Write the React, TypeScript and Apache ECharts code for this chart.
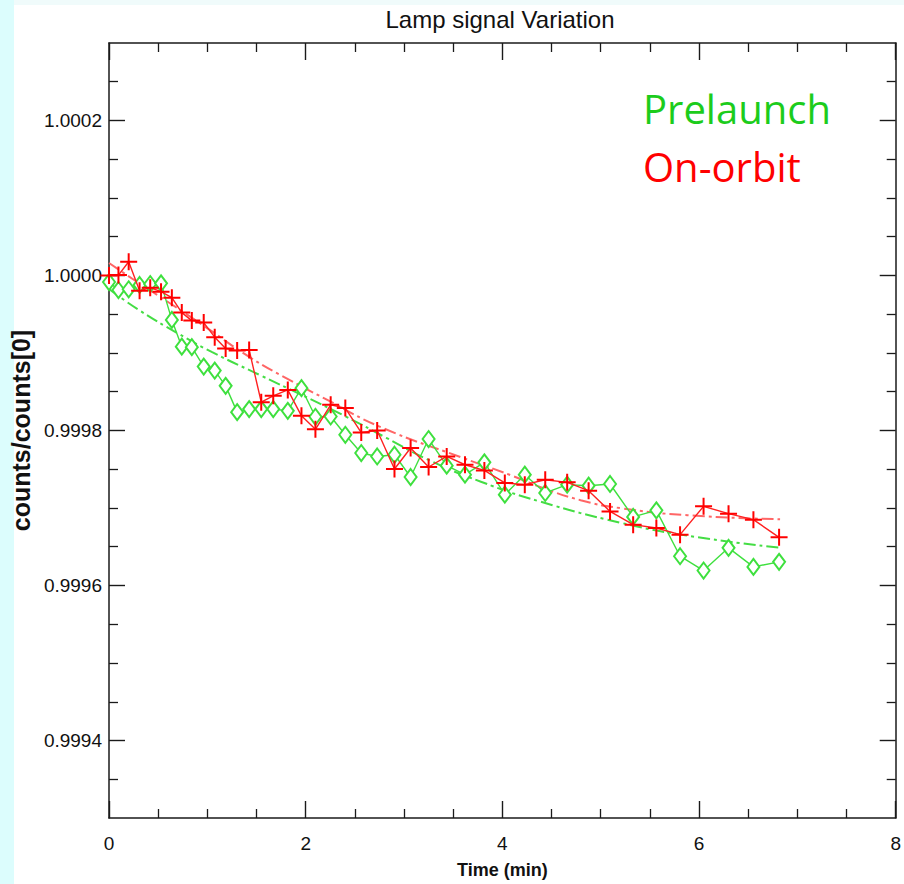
import React, { useEffect, useRef } from "react";
import * as echarts from "echarts";

// ---- data ----
const times = [0, 0.096, 0.2, 0.311, 0.419, 0.529, 0.639, 0.74, 0.842, 0.963, 1.075, 1.186, 1.303, 1.425, 1.548, 1.67, 1.818, 1.957, 2.099, 2.254, 2.403, 2.565, 2.727, 2.903, 3.067, 3.25, 3.434, 3.62, 3.817, 4.025, 4.228, 4.436, 4.659, 4.877, 5.095, 5.33, 5.566, 5.807, 6.046, 6.3, 6.553, 6.814];

const onOrbit = [1.0, 1.0000005, 1.0000178, 0.9999802, 0.9999843, 0.9999791, 0.9999714, 0.9999521, 0.9999418, 0.9999392, 0.9999204, 0.9999057, 0.9999031, 0.999904, 0.9998366, 0.9998447, 0.9998524, 0.9998189, 0.9998015, 0.9998331, 0.9998289, 0.9997974, 0.9998, 0.9997503, 0.9997774, 0.9997529, 0.9997665, 0.9997558, 0.9997485, 0.9997323, 0.9997301, 0.9997365, 0.9997331, 0.9997224, 0.9996956, 0.9996785, 0.9996742, 0.9996656, 0.9997021, 0.9996927, 0.999685, 0.9996621];

const prelaunch = [0.9999916, 0.9999813, 0.9999822, 0.9999878, 0.999989, 0.9999899, 0.9999427, 0.9999082, 0.9999075, 0.9998825, 0.9998773, 0.9998576, 0.9998237, 0.9998276, 0.9998276, 0.9998276, 0.9998254, 0.9998546, 0.9998177, 0.9998181, 0.9997945, 0.9997709, 0.9997665, 0.9997687, 0.99974, 0.999789, 0.9997546, 0.999743, 0.9997589, 0.9997172, 0.999743, 0.9997194, 0.9997301, 0.9997288, 0.999731, 0.9996885, 0.999697, 0.9996378, 0.9996193, 0.9996486, 0.999624, 0.9996305];

const onOrbitFitX = [0, 0.264, 0.639, 0.973, 1.45, 1.825, 2.19, 2.768, 3.579, 4.086, 4.39, 4.796, 5.202, 5.881, 6.824];
const onOrbitFitY = [1.0000161, 0.9999936, 0.9999626, 0.9999343, 0.999893, 0.999866, 0.9998415, 0.9998041, 0.9997655, 0.9997423, 0.9997268, 0.9997101, 0.9996998, 0.9996907, 0.9996855];

const prelaunchFitX = [0, 0.304, 0.71, 1.044, 1.551, 1.957, 2.393, 2.819, 3.245, 3.782, 4.39, 5.202, 5.881, 6.814];
const prelaunchFitY = [0.9999826, 0.9999555, 0.9999246, 0.9999014, 0.9998705, 0.999846, 0.999819, 0.9997906, 0.9997623, 0.9997339, 0.9997081, 0.999681, 0.9996643, 0.9996488];

const yMajorTicks = [0.9994, 0.9996, 0.9998, 1.0, 1.0002];
const yMinorTicks = [0.99935, 0.99945, 0.9995, 0.99955, 0.99965, 0.9997, 0.99975, 0.99985, 0.9999, 0.99995, 1.00005, 1.0001, 1.00015, 1.00025];

const title = "Lamp signal Variation";
const xName = "Time (min)";
const yName = "counts/counts[0]";
const legendNames = ["Prelaunch", "On-orbit"];

const pairs = (xs: number[], ys: number[]) => xs.map((x, i) => [x, ys[i]]);

const AXIS_COLOR = "#1a1a1a";
const FONT = "Liberation Sans";

export default function App() {
  const ref = useRef<HTMLDivElement>(null);
  useEffect(() => {
    if (!ref.current) return;
    const chart = echarts.init(ref.current, null, { renderer: "svg" });
    const xBase = (pos: "bottom" | "top", labels: boolean) => ({
      type: "value",
      position: pos,
      min: 0,
      max: 8,
      interval: 2,
      axisLine: { show: true, onZero: false, lineStyle: { color: AXIS_COLOR, width: 1.5 } },
      axisTick: { show: true, inside: true, length: 17, lineStyle: { color: AXIS_COLOR, width: 1.4 } },
      minorTick: { show: true, splitNumber: 4, length: 9, lineStyle: { color: AXIS_COLOR, width: 1.3 } },
      splitLine: { show: false },
      axisLabel: labels
        ? { show: true, margin: 16, color: "#111", fontFamily: FONT, fontSize: 19 }
        : { show: false },
      ...(labels
        ? {
            name: xName,
            nameLocation: "middle",
            nameGap: 43,
            nameTextStyle: { color: "#111", fontFamily: FONT, fontWeight: "bold", fontSize: 18 },
          }
        : {}),
    });
    const yBase = (pos: "left" | "right", major: boolean, labels: boolean) => ({
      type: "value",
      position: pos,
      offset: 0,
      min: 0.9993,
      max: 1.0003,
      axisLine: { show: major, onZero: false, lineStyle: { color: AXIS_COLOR, width: 1.5 } },
      axisTick: {
        show: true,
        inside: true,
        length: major ? 16 : 9,
        customValues: major ? yMajorTicks : yMinorTicks,
        lineStyle: { color: AXIS_COLOR, width: major ? 1.4 : 1.3 },
      },
      splitLine: { show: false },
      axisLabel: labels
        ? {
            show: true,
            customValues: yMajorTicks,
            margin: 7,
            color: "#111",
            fontFamily: FONT,
            fontSize: 19,
            formatter: (v: number) => v.toFixed(4),
          }
        : { show: false },
      ...(labels
        ? {
            name: yName,
            nameLocation: "middle",
            nameRotate: 90,
            nameGap: 67,
            nameTextStyle: { color: "#111", fontFamily: FONT, fontWeight: "bold", fontSize: 25 },
          }
        : {}),
    });

    const option: any = {
      animation: false,
      backgroundColor: "#ffffff",
      grid: { left: 107, top: 43, right: 8, bottom: 65, containLabel: false },
      xAxis: [xBase("bottom", true), xBase("top", false)],
      yAxis: [
        yBase("left", true, true),
        yBase("right", true, false),
        yBase("left", false, false),
        yBase("right", false, false),
      ],
      graphic: [
        { type: "rect", left: 0, top: 0, shape: { width: 904, height: 5 }, style: { fill: "#f0fbfb" }, silent: true, z: -10 },
        { type: "rect", left: 0, top: 0, shape: { width: 14, height: 884 }, style: { fill: "#dcfdfd" }, silent: true, z: -10 },
        {
          type: "text",
          x: 500,
          y: 19,
          style: { text: title, fontFamily: FONT, fontSize: 24, fill: "#111", align: "center", verticalAlign: "middle" },
        },
        {
          type: "text",
          x: 643,
          y: 108,
          style: { text: legendNames[0], fontFamily: "Open Sans", fontSize: 40, fill: "#1ccc1c", align: "left", verticalAlign: "middle" },
        },
        {
          type: "text",
          x: 643,
          y: 166,
          style: { text: legendNames[1], fontFamily: "Open Sans", fontSize: 40, fill: "#ff0000", align: "left", verticalAlign: "middle" },
        },
      ],
      series: [
        {
          name: "Prelaunch fit",
          type: "line",
          data: pairs(prelaunchFitX, prelaunchFitY),
          smooth: true,
          showSymbol: false,
          symbol: "none",
          lineStyle: { color: "#44dd44", width: 2, type: [12, 4, 3, 4] },
          z: 2,
        },
        {
          name: "On-orbit fit",
          type: "line",
          data: pairs(onOrbitFitX, onOrbitFitY),
          smooth: true,
          showSymbol: false,
          symbol: "none",
          lineStyle: { color: "#ff6666", width: 2, type: [12, 4, 3, 4] },
          z: 2,
        },
        {
          name: "Prelaunch",
          type: "line",
          data: pairs(times, prelaunch),
          symbol: "emptyDiamond",
          symbolSize: [12, 16],
          itemStyle: { color: "#3ee03e", borderColor: "#3ee03e", borderWidth: 1.4 },
          lineStyle: { color: "#3ee03e", width: 1.4 },
          z: 3,
        },
        {
          name: "On-orbit",
          type: "line",
          data: pairs(times, onOrbit),
          symbol: "path://M0,8L16,8M8,0L8,16",
          symbolSize: 17,
          itemStyle: { color: "#ff0000", borderColor: "#ff0000", borderWidth: 2 },
          lineStyle: { color: "#ff2020", width: 1.4 },
          z: 4,
        },
      ],
    };
    chart.setOption(option);
    return () => chart.dispose();
  }, []);
  return (
    <div
      ref={ref}
      style={{ position: "absolute", left: 0, top: 0, width: 904, height: 884 }}
    />
  );
}
